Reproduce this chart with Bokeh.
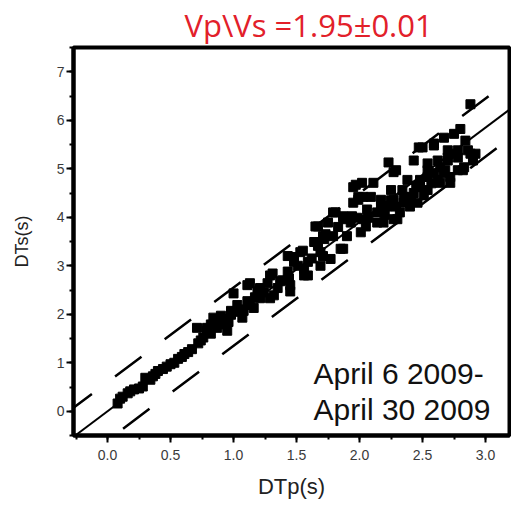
from bokeh.plotting import figure
from bokeh.models import Label, SingleIntervalTicker, PrintfTickFormatter
from bokeh.embed import file_html
from bokeh.resources import INLINE

# ---- data ----
dtp = [0.08, 0.10, 0.12, 0.16, 0.18, 0.21, 0.25, 0.28, 0.30, 0.34, 0.36, 0.38, 0.40, 0.44, 0.47,
       0.50, 0.53, 0.56, 0.59, 0.61, 0.64, 0.67, 0.71, 0.72, 0.74, 0.76, 0.79, 0.79, 0.82, 0.82,
       0.84, 0.86, 0.87, 0.90, 0.90, 0.93, 0.95, 0.96, 0.98, 0.98, 1.00, 1.02, 1.03, 1.05, 1.07,
       1.08, 1.11, 1.11, 1.13, 1.13, 1.16, 1.17, 1.19, 1.21, 1.21, 1.24, 1.27, 1.29, 1.29, 1.31,
       1.32, 1.35, 1.37, 1.39, 1.43, 1.43, 1.44, 1.45, 1.45, 1.48, 1.48, 1.51, 1.53, 1.55, 1.56,
       1.56, 1.59, 1.59, 1.62, 1.64, 1.65, 1.67, 1.67, 1.69, 1.69, 1.71, 1.71, 1.72, 1.73, 1.75,
       1.77, 1.79, 1.79, 1.81, 1.83, 1.85, 1.87, 1.87, 1.87, 1.90, 1.93, 1.94, 1.95, 1.95, 1.97,
       1.98, 1.99, 1.99, 2.01, 2.02, 2.03, 2.03, 2.05, 2.06, 2.07, 2.09, 2.11, 2.14, 2.14, 2.17,
       2.17, 2.19, 2.20, 2.22, 2.23, 2.25, 2.25, 2.27, 2.27, 2.27, 2.29, 2.29, 2.30, 2.32, 2.34,
       2.35, 2.35, 2.38, 2.38, 2.40, 2.41, 2.43, 2.43, 2.45, 2.46, 2.47, 2.48, 2.48, 2.50, 2.51,
       2.54, 2.54, 2.54, 2.54, 2.57, 2.59, 2.59, 2.59, 2.62, 2.62, 2.64, 2.64, 2.67, 2.67, 2.68,
       2.70, 2.70, 2.70, 2.72, 2.72, 2.75, 2.75, 2.78, 2.78, 2.78, 2.80, 2.82, 2.83, 2.84, 2.86,
       2.88, 2.88, 2.90, 2.92]
dts = [0.16, 0.26, 0.30, 0.37, 0.41, 0.45, 0.47, 0.51, 0.69, 0.65, 0.72, 0.77, 0.83, 0.87, 0.92,
       0.97, 1.00, 1.08, 1.12, 1.18, 1.22, 1.28, 1.72, 1.40, 1.46, 1.52, 1.66, 1.72, 1.60, 1.79,
       1.93, 1.87, 1.72, 1.79, 1.97, 1.90, 1.66, 1.84, 2.07, 1.99, 2.43, 2.05, 2.19, 2.10, 1.93,
       2.07, 2.27, 2.60, 2.19, 2.64, 2.13, 2.35, 2.47, 2.33, 2.54, 2.45, 2.64, 2.80, 2.33, 2.84,
       2.39, 2.54, 2.68, 2.70, 2.88, 3.20, 2.74, 2.47, 2.60, 3.08, 3.18, 3.00, 3.28, 3.31, 2.80,
       2.94, 3.08, 2.80, 3.15, 3.49, 3.81, 3.41, 3.81, 3.00, 3.28, 3.20, 3.61, 3.55, 3.65, 3.89,
       3.14, 3.61, 4.10, 4.10, 3.80, 3.35, 4.02, 3.96, 3.35, 3.61, 3.89, 4.02, 4.30, 4.62, 4.67,
       3.99, 4.42, 4.36, 3.69, 4.71, 4.42, 3.96, 3.81, 4.16, 3.99, 4.42, 4.71, 4.10, 3.89, 4.36,
       4.22, 3.89, 4.05, 4.22, 5.13, 4.56, 4.35, 4.36, 3.96, 4.93, 4.97, 4.22, 3.96, 4.10, 4.56,
       4.30, 4.42, 4.77, 4.42, 4.22, 4.35, 5.17, 4.50, 4.65, 4.30, 5.44, 4.77, 4.62, 5.44, 4.45,
       4.97, 4.56, 4.83, 5.11, 4.70, 5.52, 4.91, 5.48, 5.17, 4.77, 4.71, 5.03, 5.64, 4.91, 4.97,
       5.38, 5.17, 5.23, 4.71, 4.83, 5.72, 5.31, 5.23, 5.38, 4.97, 5.82, 4.97, 5.03, 5.58, 5.38,
       5.31, 6.33, 5.17, 5.31]

vp_vs = 1.95          # slope of the fitted line
band = 0.6            # half width of the dashed band (s)
x_ticks_step = 0.5
y_ticks_step = 1
title_text = "Vp\\Vs =1.95\u00b10.01"
period_lines = ["April 6 2009-", "April 30 2009"]

x0, x1 = -0.27, 3.19
y0, y1 = -0.5, 7.5

p = figure(width=511, height=501, x_range=(x0, x1), y_range=(y0, y1),
           output_backend="svg", toolbar_location=None,
           min_border_left=73, min_border_right=2, min_border_top=46, min_border_bottom=62)
p.xgrid.visible = False
p.ygrid.visible = False
p.outline_line_color = "black"
p.outline_line_width = 4
p.background_fill_color = "white"

# title (red)
p.title.text = title_text
p.title.text_font = "Open Sans"
p.title.text_font_size = "31px"
p.title.text_font_style = "normal"
p.title.text_color = "#e2202a"
p.title.align = "left"
p.title.offset = 111
p.title.standoff = 3
p.title.text_line_height = 0.9

# lines
xl = [x0, x1]
p.line(xl, [vp_vs * v for v in xl], line_color="black", line_width=2)
p.line(xl, [vp_vs * v + band for v in xl], line_color="black", line_width=2.5,
       line_dash="33 29", line_dash_offset=10)
p.line(xl, [vp_vs * v - band for v in xl], line_color="black", line_width=2.5,
       line_dash="33 29", line_dash_offset=0)

# points
p.scatter(dtp, dts, marker="square", size=9, fill_color="black", line_color="black")

# axes
for ax in (p.xaxis[0], p.yaxis[0]):
    ax.axis_line_width = 4
    ax.axis_line_color = "black"
    ax.major_tick_line_width = 2
    ax.minor_tick_line_width = 2
    ax.major_tick_line_color = "black"
    ax.minor_tick_line_color = "black"
    ax.major_tick_out = 7
    ax.major_tick_in = 0
    ax.minor_tick_out = 4
    ax.minor_tick_in = 0
    ax.major_label_text_font = "Liberation Sans"
    ax.major_label_text_font_size = "14px"
    ax.major_label_text_color = "#3a3a3a"
    ax.axis_label_text_font = "Liberation Sans"
    ax.axis_label_text_font_style = "normal"
    ax.axis_label_text_color = "#222222"

p.xaxis[0].ticker = SingleIntervalTicker(interval=x_ticks_step, num_minor_ticks=2)
p.yaxis[0].ticker = SingleIntervalTicker(interval=y_ticks_step, num_minor_ticks=2)
p.xaxis[0].formatter = PrintfTickFormatter(format="%.1f")
p.yaxis[0].formatter = PrintfTickFormatter(format="%d")
p.xaxis[0].major_label_standoff = 7
p.yaxis[0].major_label_standoff = 2
p.xaxis[0].axis_label = "DTp(s)"
p.yaxis[0].axis_label = "DTs(s)"
p.xaxis[0].axis_label_text_font_size = "22px"
p.yaxis[0].axis_label_text_font_size = "18px"
p.xaxis[0].axis_label_standoff = 11
p.yaxis[0].axis_label_standoff = 22

# period text
p.add_layout(Label(x=1.635, y=0.78, text=period_lines[0], text_font="Liberation Sans",
                   text_font_size="30px", text_color="#111111", text_baseline="alphabetic"))
p.add_layout(Label(x=1.635, y=0.03, text=period_lines[1], text_font="Liberation Sans",
                   text_font_size="30px", text_color="#111111", text_baseline="alphabetic"))

open("out.html", "w").write(file_html(p, INLINE))
